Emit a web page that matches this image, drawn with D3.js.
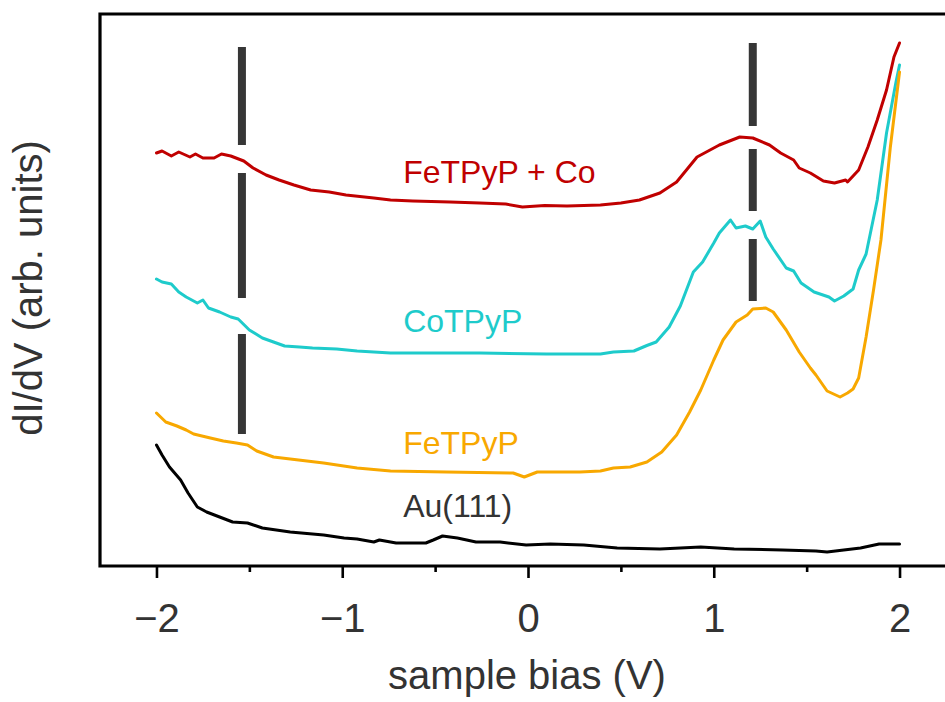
<!DOCTYPE html>
<html>
<head>
<meta charset="utf-8">
<script src="https://cdn.jsdelivr.net/npm/d3@7"></script>
<style>
  html, body { margin: 0; padding: 0; background: #fff; }
  svg { display: block; font-family: Arial, "Liberation Sans", Helvetica, sans-serif; }
</style>
</head>
<body>
<svg id="chart" width="945" height="702"></svg>
<script>
// ---------------- data (x: sample bias in V, y: dI/dV in arb. units) ----------------
const seriesNames = ["FeTPyP + Co", "CoTPyP", "FeTPyP", "Au(111)"];

const biasFeCo = [-2.00,-1.97,-1.92,-1.88,-1.82,-1.79,-1.75,-1.69,-1.65,-1.60,-1.53,-1.48,-1.41,-1.34,-1.26,-1.17,-1.07,-0.98,-0.83,-0.74,-0.62,-0.42,-0.26,-0.12,-0.03,0.09,0.21,0.39,0.50,0.60,0.71,0.80,0.91,0.98,1.03,1.14,1.21,1.30,1.36,1.43,1.46,1.52,1.59,1.65,1.71,1.72,1.78,1.83,1.88,1.93,1.97,2.00];
const didvFeCo = [41.3,41.5,41.0,41.4,40.9,41.2,40.8,40.8,41.2,41.0,40.5,39.8,39.1,38.6,38.1,37.6,37.4,37.1,36.8,36.6,36.5,36.4,36.3,36.2,35.9,36.05,36.0,36.1,36.3,36.6,37.3,38.4,40.9,41.6,42.1,42.9,42.8,42.1,41.3,40.6,39.8,39.3,38.5,38.3,38.6,38.4,39.6,41.9,44.6,47.6,50.9,52.3];

const biasCo = [-2.00,-1.97,-1.92,-1.88,-1.84,-1.78,-1.75,-1.72,-1.66,-1.60,-1.56,-1.50,-1.43,-1.37,-1.31,-1.23,-1.16,-1.03,-0.92,-0.74,-0.26,0.10,0.39,0.46,0.57,0.64,0.69,0.76,0.82,0.89,0.94,1.00,1.03,1.09,1.12,1.17,1.21,1.25,1.28,1.32,1.39,1.43,1.47,1.54,1.62,1.65,1.70,1.75,1.78,1.82,1.88,1.93,1.98,2.00];
const didvCo = [28.7,28.4,28.2,27.4,26.9,26.3,26.6,25.8,25.4,24.9,24.7,23.6,22.8,22.4,22.0,21.9,21.8,21.7,21.5,21.3,21.3,21.2,21.2,21.4,21.5,22.05,22.4,23.9,26.0,29.4,30.4,32.3,33.3,34.6,33.8,34.0,33.7,34.5,32.9,31.7,29.8,29.5,28.3,27.4,26.9,26.5,27.0,27.7,29.6,31.2,36.6,43.3,48.3,50.1];

const biasFe = [-2.00,-1.95,-1.89,-1.84,-1.80,-1.71,-1.64,-1.57,-1.51,-1.46,-1.37,-1.28,-1.10,-0.92,-0.74,-0.44,-0.08,-0.02,0.05,0.28,0.39,0.46,0.55,0.64,0.72,0.80,0.87,0.93,1.00,1.05,1.12,1.18,1.21,1.28,1.32,1.39,1.46,1.52,1.55,1.61,1.68,1.72,1.75,1.78,1.82,1.86,1.90,1.95,2.00];
const didvFe = [15.3,14.4,14.0,13.6,13.2,12.8,12.5,12.3,12.1,11.5,10.9,10.7,10.3,9.8,9.5,9.4,9.3,8.9,9.4,9.4,9.5,9.8,9.9,10.4,11.4,13.1,15.4,17.6,20.6,22.6,24.4,25.1,25.7,25.8,25.4,23.6,21.4,19.8,19.1,17.5,16.9,17.3,17.7,18.8,22.9,27.6,32.6,41.8,49.4];

const biasAu = [-2.00,-1.97,-1.93,-1.87,-1.83,-1.78,-1.73,-1.66,-1.59,-1.51,-1.43,-1.28,-1.10,-0.99,-0.92,-0.83,-0.80,-0.71,-0.55,-0.51,-0.46,-0.38,-0.28,-0.15,-0.01,0.12,0.30,0.48,0.71,0.93,1.11,1.37,1.55,1.61,1.79,1.89,2.00];
const didvAu = [12.1,11.1,9.9,8.6,7.3,5.9,5.4,4.9,4.4,4.3,3.8,3.4,3.1,2.8,2.7,2.4,2.6,2.3,2.3,2.6,3.0,2.8,2.4,2.4,2.1,2.2,2.1,1.8,1.7,1.9,1.7,1.6,1.5,1.4,1.8,2.2,2.2];

// dashed marker bars (bias position and segments in arb. units)
const markerBias = [-1.54, 1.21];
const markerSegments = [
  [[51.9, 42.1], [39.3, 26.8], [23.2, 13.2]],
  [[52.3, 44.0], [41.7, 35.5], [32.7, 26.5]]
];

const majorTicks = [-2, -1, 0, 1, 2];
const majorTickLabels = ["\u22122", "\u22121", "0", "1", "2"];
const minorTicks = [-1.5, -0.5, 0.5, 1.5];

// ---------------- layout ----------------
const svg = d3.select("#chart");
const plotLeft = 100, plotRight = 956, plotTop = 14, plotBottom = 566;
const x = d3.scaleLinear().domain([-2.304, 2.304]).range([plotLeft, plotRight]);
const y = d3.scaleLinear().domain([0, 55.2]).range([plotBottom, plotTop]);

const colors = ["#c00000", "#1ecbcb", "#f8a800", "#000000"];
const labelColors = ["#c00000", "#1ecbcb", "#f8a800", "#333333"];
const series = [
  {bias: biasFeCo, v: didvFeCo},
  {bias: biasCo, v: didvCo},
  {bias: biasFe, v: didvFe},
  {bias: biasAu, v: didvAu}
];
// label anchor (bias V, arb. units) for each series name
const labelPos = [[-0.672, 38.3], [-0.672, 23.4], [-0.672, 11.2], [-0.672, 4.9]];

const line = d3.line().x(d => x(d[0])).y(d => y(d[1]));

// marker bars
markerBias.forEach((b, i) => {
  markerSegments[i].forEach(seg => {
    svg.append("line")
      .attr("x1", x(b)).attr("x2", x(b))
      .attr("y1", y(seg[0])).attr("y2", y(seg[1]))
      .attr("stroke", "#363636").attr("stroke-width", 8);
  });
});

// curves
series.forEach((s, i) => {
  const pts = s.bias.map((b, j) => [b, s.v[j]]);
  svg.append("path")
    .attr("d", line(pts))
    .attr("fill", "none")
    .attr("stroke", colors[i])
    .attr("stroke-width", 3)
    .attr("stroke-linejoin", "round")
    .attr("stroke-linecap", "round");
});

// labels
seriesNames.forEach((n, i) => {
  svg.append("text")
    .attr("x", x(labelPos[i][0]))
    .attr("y", y(labelPos[i][1]))
    .attr("font-size", 32)
    .attr("fill", labelColors[i])
    .text(n);
});

// frame (top, left, bottom)
svg.append("path")
  .attr("d", `M${plotRight},${plotTop}H${plotLeft}V${plotBottom}H${plotRight}`)
  .attr("fill", "none").attr("stroke", "#000").attr("stroke-width", 3.2);

// axis ticks
const axisMajor = d3.axisBottom(x).tickValues(majorTicks).tickSize(12).tickFormat((d, i) => majorTickLabels[i]);
const gMaj = svg.append("g").attr("transform", `translate(0,${plotBottom})`).call(axisMajor);
gMaj.select(".domain").remove();
gMaj.selectAll(".tick line").attr("stroke", "#000").attr("stroke-width", 2.6);
gMaj.selectAll(".tick text")
  .attr("y", 66).attr("dy", null)
  .attr("font-size", 40).attr("fill", "#333")
  .attr("font-family", "Arial, 'Liberation Sans', sans-serif");

const axisMinor = d3.axisBottom(x).tickValues(minorTicks).tickSize(6).tickFormat("");
const gMin = svg.append("g").attr("transform", `translate(0,${plotBottom})`).call(axisMinor);
gMin.select(".domain").remove();
gMin.selectAll(".tick line").attr("stroke", "#000").attr("stroke-width", 2.6);

// axis titles
svg.append("text")
  .attr("x", 527).attr("y", 689)
  .attr("text-anchor", "middle")
  .attr("font-size", 40).attr("fill", "#333")
  .text("sample bias (V)");

svg.append("text")
  .attr("transform", "translate(42,288) rotate(-90)")
  .attr("text-anchor", "middle")
  .attr("font-size", 40).attr("fill", "#333")
  .text("dI/dV (arb. units)");
</script>
</body>
</html>
